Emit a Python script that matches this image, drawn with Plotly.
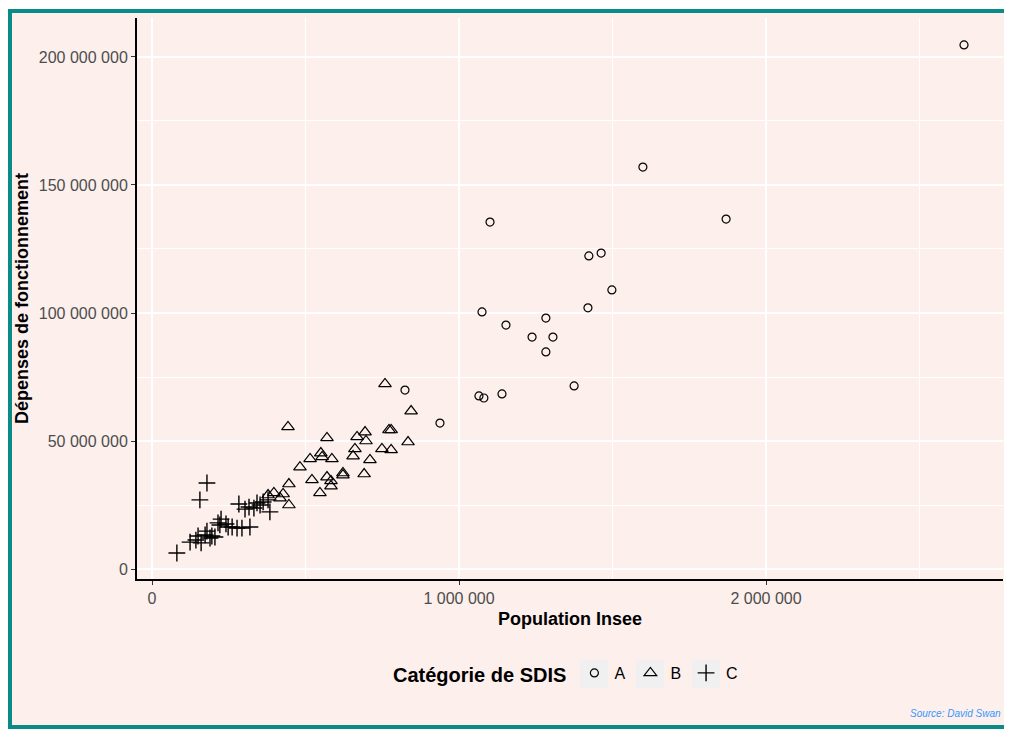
import plotly.graph_objects as go

# Catégorie A
pop_a = [2645000, 1599000, 1870000, 1101000, 1463000, 1423000, 1498000, 1420000, 1075000, 1283000,
         1153000, 1238000, 1306000, 1283000, 1375000, 824000, 1065000, 1081000, 1140000, 938000]
dep_a = [204700000, 157000000, 136700000, 135500000, 123400000, 122300000, 109000000, 102000000, 100400000, 98000000,
         95300000, 90600000, 90600000, 84800000, 71500000, 69900000, 67600000, 66800000, 68400000, 57000000]

# Catégorie B
pop_b = [759000, 844000, 443000, 570000, 668000, 694000, 697000, 772000, 779000, 834000,
         661000, 749000, 779000, 655000, 710000, 550000, 554000, 515000, 586000, 482000,
         521000, 570000, 583000, 583000, 622000, 622000, 691000, 547000, 446000, 446000,
         427000, 397000, 417000, 378000]
dep_b = [72300000, 61700000, 55500000, 51200000, 51600000, 53500000, 50000000, 54300000, 54300000, 49600000,
         46900000, 46900000, 46500000, 44100000, 42600000, 45300000, 43800000, 43000000, 43000000, 39800000,
         34800000, 35900000, 34400000, 32400000, 37500000, 36700000, 37100000, 29700000, 33200000, 25000000,
         29300000, 29700000, 27700000, 28900000]

# Catégorie C
pop_c = [81000, 124000, 143000, 150000, 160000, 173000, 179000, 195000, 205000, 189000,
         215000, 225000, 221000, 241000, 248000, 261000, 277000, 293000, 319000, 179000,
         156000, 283000, 303000, 316000, 332000, 342000, 352000, 362000, 378000, 384000]
dep_c = [6250000, 10500000, 11300000, 12900000, 10200000, 13300000, 14800000, 12900000, 12500000, 12100000,
         18000000, 19500000, 17200000, 17600000, 16400000, 16400000, 16000000, 16000000, 16400000, 33600000,
         27000000, 25400000, 23400000, 24200000, 23800000, 25800000, 25000000, 26200000, 27000000, 22300000]

x_ticks = [0, 1000000, 2000000]
x_labels = ["0", "1 000 000", "2 000 000"]
x_minor = [500000, 1500000, 2500000]
y_ticks = [0, 50000000, 100000000, 150000000, 200000000]
y_labels = ["0", "50 000 000", "100 000 000", "150 000 000", "200 000 000"]
y_minor = [25000000, 75000000, 125000000, 175000000]

FONT = "Liberation Sans, Arial, sans-serif"
BG = "#fdefec"
KEY_BG = "#f0f0f0"
# the page body has an 8px margin, so the figure starts at (8, 8) of the window
OFF = 8
W, H = 1012 - OFF, 729 - OFF
ML, MR, MT, MB = 137 - OFF, 9, 18 - OFF, 150
PW, PH = W - ML - MR, H - MT - MB


def px_x(px):
    # window pixel -> paper x
    return (px - OFF - ML) / PW


def px_y(py):
    # window pixel -> paper y
    return (H - MB - (py - OFF)) / PH


fig = go.Figure()
fig.add_trace(go.Scatter(x=pop_a, y=dep_a, mode="markers", name="A",
                         marker=dict(symbol="circle-open", size=8, color="black",
                                     line=dict(color="black", width=1.2))))
fig.add_trace(go.Scatter(x=pop_b, y=dep_b, mode="markers", name="B",
                         marker=dict(symbol="triangle-up-open", size=11, color="black",
                                     line=dict(color="black", width=1.2))))
fig.add_trace(go.Scatter(x=pop_c, y=dep_c, mode="markers", name="C",
                         marker=dict(symbol="cross-thin-open", size=12, color="black",
                                     line=dict(color="black", width=1.4))))

# page frame
fig.add_shape(type="rect", xref="paper", yref="paper", layer="below",
              x0=px_x(10), x1=px_x(1010), y0=px_y(727), y1=px_y(11),
              line=dict(color="#0b8b87", width=4), fillcolor=BG)

# grey legend key boxes
for cx in [594, 650, 706]:
    fig.add_shape(type="rect", xref="paper", yref="paper", layer="below",
                  x0=px_x(cx - 14), x1=px_x(cx + 14), y0=px_y(688), y1=px_y(660),
                  line=dict(width=0), fillcolor=KEY_BG)

axis_common = dict(showline=True, linecolor="black", linewidth=2, ticks="outside", ticklen=4,
                   tickcolor="#333333", tickwidth=1, showgrid=True, gridcolor="white", gridwidth=1.6,
                   zeroline=False, tickfont=dict(family=FONT, size=16, color="#4d4d4d"),
                   tickmode="array")

fig.update_xaxes(axis_common, range=[-48860, 2772000], tickvals=x_ticks, ticktext=x_labels,
                 minor=dict(tickvals=x_minor, showgrid=True, gridcolor="white", gridwidth=0.8, ticks=""),
                 title=dict(text="<b>Population Insee</b>", font=dict(family=FONT, size=18, color="black"),
                            standoff=6))
fig.update_yaxes(axis_common, range=[-3906000, 215230000], tickvals=y_ticks, ticktext=y_labels,
                 minor=dict(tickvals=y_minor, showgrid=True, gridcolor="white", gridwidth=0.8, ticks=""),
                 title=dict(text="<b>Dépenses de fonctionnement</b>", font=dict(family=FONT, size=18, color="black"),
                            standoff=6))

fig.add_annotation(text="<i>Source: David Swan</i>", xref="paper", yref="paper",
                   x=px_x(1003), y=px_y(713), xanchor="right", yanchor="middle", showarrow=False,
                   font=dict(family=FONT, size=10, color="#3399ff"))

fig.update_layout(
    width=W, height=H,
    margin=dict(l=ML, r=MR, t=MT, b=MB),
    paper_bgcolor="white", plot_bgcolor=BG,
    font=dict(family=FONT),
    showlegend=True,
    legend=dict(orientation="h", x=px_x(567), xanchor="center", y=px_y(674), yanchor="middle",
                title=dict(text="<b>Catégorie de SDIS</b>", font=dict(family=FONT, size=20, color="black")),
                font=dict(family=FONT, size=16, color="black"), bgcolor="rgba(0,0,0,0)"),
)

fig.write_html("out.html")
